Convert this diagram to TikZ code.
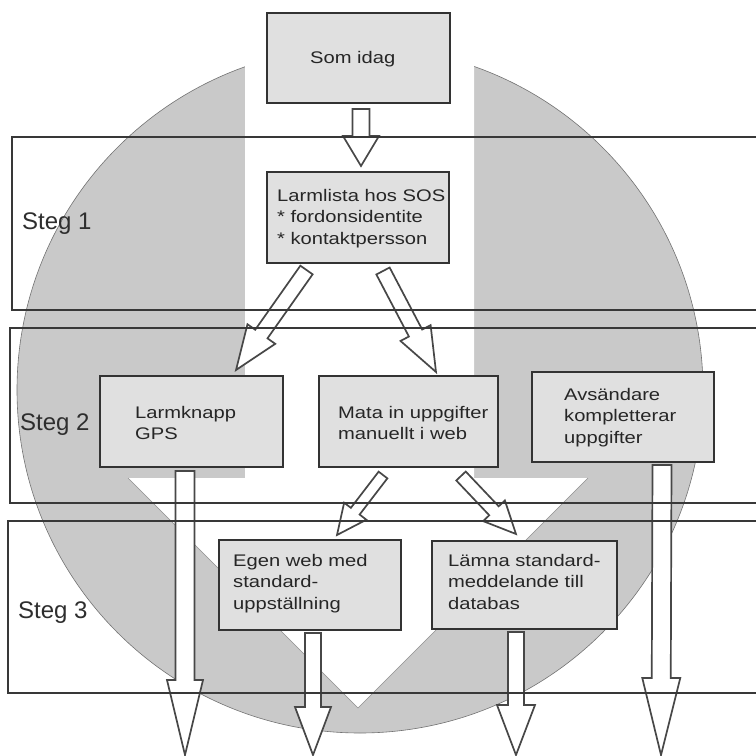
\documentclass[tikz,border=0pt]{standalone}
\usepackage{fontspec}
\setmainfont{Liberation Sans}
\newfontfamily\boxfont[FakeStretch=1.2]{Liberation Sans}
\usetikzlibrary{calc}

\tikzset{
  disc/.style={fill=black!21, draw=black!55, line width=0.6pt},
  band/.style={draw=black!78, line width=1.6pt},
  stepbox/.style={draw=black!80, line width=2pt, fill=black!12, inner sep=0pt},
  boxtext/.style={font=\boxfont\fontsize{16.8}{21.5}\selectfont, text=black!85,
    align=left, inner sep=0pt, anchor=north west},
  steglabel/.style={font=\fontsize{24}{28}\selectfont, text=black!82,
    inner sep=0pt, anchor=base west},
  hollow/.style={draw=black!72, line width=1.7pt, fill=white, line join=miter},
}

% hollow block arrow: #1 tail, #2 tip, #3 half shaft width, #4 half head width, #5 head length
\newcommand\blockarrow[5]{%
  \coordinate (ba-h) at ($(#2)!#5!(#1)$);
  \draw[hollow] ($(#1)!#3!90:(#2)$) -- ($(ba-h)!#3!-90:(#1)$)
    -- ($(ba-h)!#4!-90:(#1)$) -- (#2) -- ($(ba-h)!#4!90:(#1)$)
    -- ($(ba-h)!#3!90:(#1)$) -- ($(#1)!#3!-90:(#2)$) -- cycle;
}

\begin{document}
\begin{tikzpicture}[x=1pt, y=-1pt]
\useasboundingbox (0,0) rectangle (756,756);
\clip (0,0) rectangle (756,756);
\fill[white] (0,0) rectangle (756,756);

% grey disc with the broad white downward arrow cut into it
\draw[disc] (360,390) circle[radius=343pt];
\fill[white] (245,30) -- (245,478) -- (128,478) -- (358,708) -- (588,478)
  -- (474,478) -- (474,30) -- cycle;
\draw[black!45, line width=0.6pt] (128,478) -- (358,708) -- (588,478);

% boxes
\node[stepbox, minimum width=183pt, minimum height=90pt] (som) at (358.5,58) {};
\node[stepbox, minimum width=182pt, minimum height=91pt] (larm) at (358,217.5) {};
\node[stepbox, minimum width=183pt, minimum height=91pt] (knapp) at (191.5,421.5) {};
\node[stepbox, minimum width=179pt, minimum height=91pt] (mata) at (408.5,421.5) {};
\node[stepbox, minimum width=182pt, minimum height=90pt] (avs) at (623,417) {};
\node[stepbox, minimum width=182pt, minimum height=90pt] (egen) at (310,585) {};
\node[stepbox, minimum width=185pt, minimum height=88pt] (lamna) at (524.5,585) {};

\node[boxtext] (som-t) at (310,50.7) {Som idag};
\node[boxtext] (larm-t) at (277,188.7) {Larmlista hos SOS\\* fordonsidentite\\* kontaktpersson};
\node[boxtext] (knapp-t) at (135,405.7) {Larmknapp\\GPS};
\node[boxtext] (mata-t) at (338,405.7) {Mata in uppgifter\\manuellt i web};
\node[boxtext] (avs-t) at (564,387.7) {Avsändare\\kompletterar\\uppgifter};
\node[boxtext] (egen-t) at (233,553.7) {Egen web med\\standard-\\uppställning};
\node[boxtext] (lamna-t) at (448,553.7) {Lämna standard-\\meddelande till\\databas};

% arrow end points
\coordinate (a1t) at ($(som.south)+(2.5,5)$);
\coordinate (a1e) at ($(larm.north)+(3,-5)$);
\coordinate (a2t) at ($(larm.south)+(-51.5,6)$);
\coordinate (a2e) at ($(knapp.north)+(44.5,-5)$);
\coordinate (a3t) at ($(larm.south)+(25,7)$);
\coordinate (a3e) at ($(mata.north)+(27.5,-3)$);
\coordinate (a4t) at ($(mata.south)+(-25.5,7)$);
\coordinate (a4e) at ($(egen.north)+(27,-4)$);
\coordinate (a5t) at ($(mata.south)+(52.5,8)$);
\coordinate (a5e) at ($(lamna.north)+(-8.5,-6)$);
\coordinate (a6t) at ($(knapp.south)+(-6.5,3)$);
\coordinate (a6e) at (185,755);
\coordinate (a7t) at ($(egen.south)+(3,2)$);
\coordinate (a7e) at (313,755);
\coordinate (a8t) at ($(lamna.south)+(-8.5,2)$);
\coordinate (a8e) at (516,755);
\coordinate (a9t) at ($(avs.south)+(39,2)$);
\coordinate (a9e) at (661,755);

\blockarrow{a1t}{a1e}{8.5pt}{18pt}{30pt}
\blockarrow{a2t}{a2e}{7.5pt}{17pt}{44pt}
\blockarrow{a3t}{a3e}{7.5pt}{17pt}{44pt}
\blockarrow{a4t}{a4e}{5.5pt}{14pt}{30pt}
\blockarrow{a5t}{a5e}{6.5pt}{15pt}{32pt}
\blockarrow{a6t}{a6e}{9.5pt}{18pt}{75pt}
\blockarrow{a7t}{a7e}{8pt}{18pt}{48pt}
\blockarrow{a8t}{a8e}{8pt}{19pt}{50pt}
\blockarrow{a9t}{a9e}{9.5pt}{19pt}{77pt}

% step bands, open to the right
\draw[band] (790,137) -- (12,137) -- (12,310) -- (790,310);
\draw[band] (790,328) -- (10,328) -- (10,503) -- (790,503);
\draw[band] (790,521) -- (8,521) -- (8,693) -- (790,693);

\node[steglabel] (s1) at (22,229) {Steg 1};
\node[steglabel] (s2) at (20,430) {Steg 2};
\node[steglabel] (s3) at (18,618) {Steg 3};
\end{tikzpicture}
\end{document}
